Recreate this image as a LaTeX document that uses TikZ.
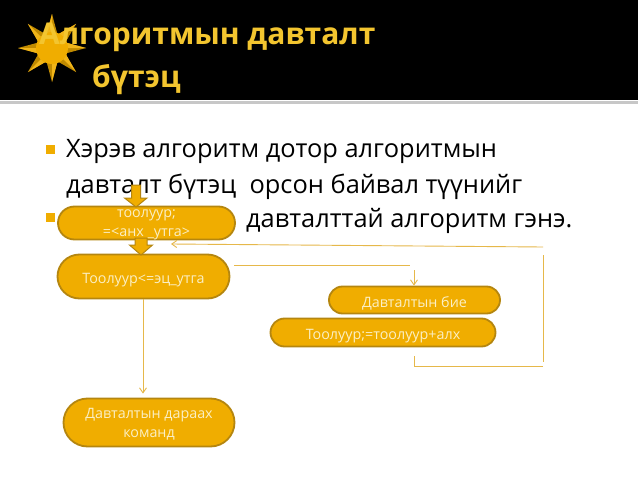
\documentclass[tikz,border=0pt]{standalone}
\usepackage{fontspec}
\setmainfont{Open Sans}
\usetikzlibrary{arrows.meta,calc,shapes.misc}
\definecolor{gold}{HTML}{F0AD00}
\definecolor{goldedge}{HTML}{B5860F}
\definecolor{titlegold}{HTML}{F3C52F}
\definecolor{pale}{HTML}{FBEFC4}
\definecolor{linegold}{HTML}{E6B84A}
\tikzset{
  flow/.style={rounded rectangle, draw=goldedge, line width=1.8pt, fill=gold, text=pale, align=center, font=\fontsize{14.3}{19}\selectfont, inner sep=0pt, execute at begin node={\rule{0pt}{17pt}}},
  flowlabel/.style={text=pale, align=center, font=\fontsize{14.3}{19}\selectfont, inner sep=0pt},
  bodytext/.style={anchor=base west, inner sep=0pt, font=\fontsize{25.4}{30}\selectfont, text=black},
  titletext/.style={anchor=base west, inner sep=0pt, font=\fontsize{30}{40}\selectfont\bfseries, text=titlegold},
  bullet/.style={fill=gold, draw=none, minimum size=9pt, inner sep=0pt},
  thin link/.style={draw=linegold, line width=0.9pt},
  thin arrow/.style={thin link, -{Straight Barb[length=5pt,width=7pt]}},
  block/.style={fill=gold, draw=goldedge, line width=1pt}
}
\begin{document}
\begin{tikzpicture}[x=1pt,y=-1pt]
\useasboundingbox (0,0) rectangle (638,479);
\fill[white] (0,0) rectangle (638,479);
\fill[black] (0,0) rectangle (638,100);
\fill[black!22] (0,101) rectangle (638,104);
% sun
\foreach \a in {0,45,...,315}{
  \fill[gold!80!black] ($(52,48)+(\a:34)$) -- ($(52,48)+(\a+21:15)$) -- ($(52,48)+(\a-21:15)$) -- cycle;
  \fill[gold!90!white] ($(52,48)+(\a:34)$) -- ($(52,48)+(\a:15)$) -- ($(52,48)+(\a-21:15)$) -- cycle;
}
\fill[gold] (52,48) circle (16);
\node[titletext] (title1) at (39,44) {Алгоритмын давталт};
\node[titletext] (title2) at (92,87) {бүтэц};
% body
\node[bullet] (b1) at (50.5,149.5) {};
\node[bullet] (b2) at (50.5,217.5) {};
\node[bodytext] (line1) at (66,157) {Хэрэв алгоритм дотор алгоритмын};
\node[bodytext] (line2) at (66,193) {давталт бүтэц\ \ орсон байвал түүнийг};
\node[bodytext] (line3) at (246,227) {давталттай алгоритм гэнэ.};
% nodes
\node[flow, minimum width=177pt, minimum height=33pt] (init) at (146.5,223) {};
\node[flowlabel] (initlabel) at (146.5,225) {тоолуур;\\=<анх \_утга>};
\node[flow, minimum width=172pt, minimum height=44pt] (cond) at (143.5,276.5) {Тоолуур<=эц\_утга};
\node[flow, minimum width=171pt, minimum height=27pt] (loop) at (414.5,300) {Давталтын бие};
\node[flow, minimum width=225pt, minimum height=28pt] (incr) at (383,332.5) {Тоолуур;=тоолуур+алх};
\node[flow, minimum width=171pt, minimum height=48pt] (after) at (149,422.5) {};
\node[flowlabel] (afterlabel) at (149,424) {Давталтын дараах\\команд};
% block arrows
\coordinate (blockA) at (136,185);
\draw[block] (blockA) ++(-4.5,0) -- ++(9,0) -- ++(0,13) -- ++(6.5,0) -- (136,207) -- (124.5,198) -- ++(7,0) -- cycle;
\coordinate (blockB) at (141,238);
\draw[block] (blockB) ++(-6,0) -- ++(12,0) -- ++(0,7) -- ++(5.5,0) -- (141,255) -- (129.5,245) -- ++(5.5,0) -- cycle;
% thin connectors
\coordinate (c1) at (410,265);
\coordinate (c2) at (414,270);
\coordinate (c3) at (543,247);
\coordinate (c4) at (543,255);
\coordinate (c5) at (543,362);
\coordinate (c6) at (543,366);
\coordinate (c7) at (414,366);
\coordinate (c8) at (414,356);
\coordinate (c9) at (171,244);
\coordinate (c10) at (143,299);
\draw[thin link] (cond.east |- c1) ++(4,0) -- (c1);
\draw[thin arrow] (c2) -- (c2 |- loop.north);
\draw[thin arrow] (c3) -- (c9);
\draw[thin link] (c4) -- (c5);
\draw[thin link] (c6) -- (c7) -- (c8);
\draw[thin arrow, shorten >=4pt] (c10) -- (c10 |- after.north);
\end{tikzpicture}
\end{document}
